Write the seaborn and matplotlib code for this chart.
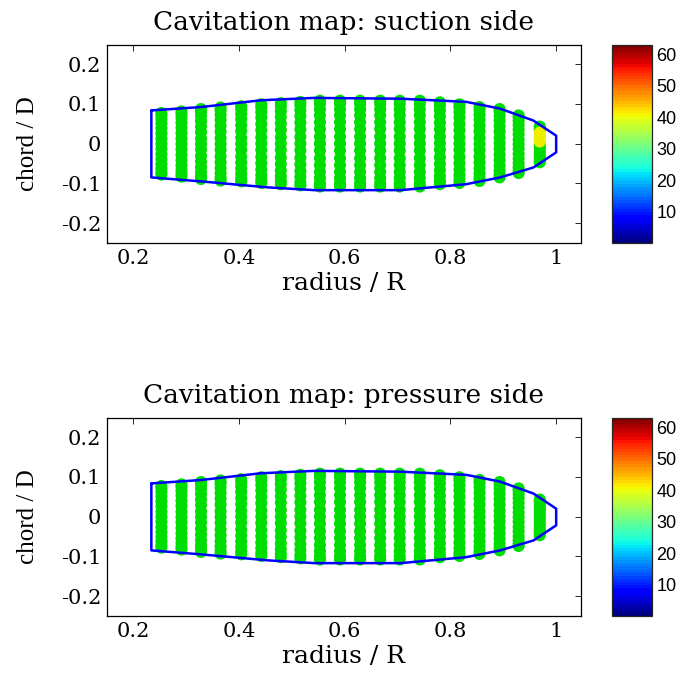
import matplotlib
matplotlib.use("Agg")

import matplotlib.pyplot as plt
import pandas as pd
import seaborn as sns
from matplotlib.cm import ScalarMappable
from matplotlib.colors import Normalize

# blade section radii (panel columns) and chordwise extent of the panel centres
RADII = [0.253, 0.291, 0.328, 0.365, 0.404, 0.442, 0.479, 0.516, 0.553, 0.591,
         0.629, 0.667, 0.704, 0.742, 0.780, 0.817, 0.855, 0.893, 0.929, 0.969]
COL_TOP = [0.077, 0.081, 0.087, 0.091, 0.094, 0.099, 0.102, 0.105, 0.108, 0.108,
           0.108, 0.108, 0.108, 0.108, 0.104, 0.099, 0.092, 0.087, 0.071, 0.043]
COL_BOTTOM = [-0.078, -0.083, -0.089, -0.093, -0.095, -0.099, -0.102, -0.105, -0.108, -0.108,
              -0.108, -0.108, -0.108, -0.108, -0.102, -0.099, -0.094, -0.085, -0.074, -0.047]
CHORD_FRAC = [0.0, 0.04, 0.10, 0.17, 0.25, 0.33, 0.42, 0.50, 0.58, 0.67, 0.75, 0.83, 0.90, 0.96, 1.0]

# cavitation state of the tip column, leading edge first
SUCTION_TIP_STATE = ["wet", "wet", "wet", "cav", "cav", "cav", "cav", "wet",
                     "wet", "wet", "wet", "wet", "wet", "wet", "wet"]
PRESSURE_TIP_STATE = ["wet"] * 15

# blade outline
OUTLINE_X = [0.234, 0.328, 0.441, 0.542, 0.706, 0.830, 0.894, 0.957, 1.000,
             1.000, 0.957, 0.894, 0.830, 0.706, 0.542, 0.454, 0.328, 0.234, 0.234]
OUTLINE_Y = [0.0835, 0.092, 0.109, 0.115, 0.113, 0.105, 0.088, 0.058, 0.020,
             -0.022, -0.060, -0.085, -0.102, -0.117, -0.117, -0.110, -0.095, -0.085, 0.0835]

X_TICKS = [0.2, 0.4, 0.6, 0.8, 1.0]
X_LABELS = ["0.2", "0.4", "0.6", "0.8", "1"]
Y_TICKS = [-0.2, -0.1, 0.0, 0.1, 0.2]
Y_LABELS = ["-0.2", "-0.1", "0", "0.1", "0.2"]
CB_TICKS = [10, 20, 30, 40, 50, 60]

PALETTE = {"wet": "#00dd00", "cav": "#eeee00"}


def panel_points(tip_state):
    rows = []
    last = len(RADII) - 1
    for i, r in enumerate(RADII):
        for j, f in enumerate(CHORD_FRAC):
            state = tip_state[j] if i == last else "wet"
            y = COL_TOP[i] + f * (COL_BOTTOM[i] - COL_TOP[i])
            rows.append({"radius": r, "chord": y, "state": state})
    df = pd.DataFrame(rows)
    # cavitating panels drawn last so they sit on top
    return pd.concat([df[df["state"] == "wet"], df[df["state"] == "cav"]])


def draw_panel(ax, cax, title, tip_state):
    df = panel_points(tip_state)
    sns.scatterplot(data=df, x="radius", y="chord", hue="state", palette=PALETTE,
                    s=75, linewidth=0, legend=False, ax=ax, zorder=2)
    outline = pd.DataFrame({"x": OUTLINE_X, "y": OUTLINE_Y})
    sns.lineplot(data=outline, x="x", y="y", sort=False, estimator=None,
                 color="#0000ff", linewidth=1.8, ax=ax, zorder=3)

    ax.set_xlim(0.15, 1.047)
    ax.set_ylim(-0.25, 0.248)
    ax.set_xticks(X_TICKS)
    ax.set_xticklabels(X_LABELS)
    ax.set_yticks(Y_TICKS)
    ax.set_yticklabels(Y_LABELS)
    ax.tick_params(direction="in", length=4, width=0.6, labelsize=15,
                   top=True, right=True, pad=4)
    for sp in ax.spines.values():
        sp.set_linewidth(0.9)
        sp.set_color("black")
    ax.set_xlabel("radius / R", fontsize=18, labelpad=3)
    ax.set_ylabel("chord / D", fontsize=18, labelpad=16,
                  family=["Liberation Serif", "DejaVu Serif"])
    ax.set_title(title, fontsize=19, pad=11)

    sm = ScalarMappable(norm=Normalize(0, 63), cmap=plt.get_cmap("jet", 64))
    cb = fig.colorbar(sm, cax=cax, ticks=CB_TICKS)
    cb.outline.set_linewidth(0.9)
    cax.tick_params(direction="in", length=3, width=0.6, left=True, right=True,
                    labelsize=13, pad=3)
    for lab in cax.get_yticklabels():
        lab.set_family(["Liberation Sans", "DejaVu Sans"])


sns.set_style("white")
plt.rcParams["font.family"] = ["DejaVu Serif"]
for key in ["text.color", "axes.labelcolor", "xtick.color", "ytick.color"]:
    plt.rcParams[key] = "black"

fig = plt.figure(figsize=(6.91, 6.73), dpi=100)
ax_top = fig.add_axes([0.1548, 0.6389, 0.686, 0.2942])
cax_top = fig.add_axes([0.8857, 0.6389, 0.0579, 0.2942])
ax_bot = fig.add_axes([0.1548, 0.0847, 0.686, 0.2942])
cax_bot = fig.add_axes([0.8857, 0.0847, 0.0579, 0.2942])

draw_panel(ax_top, cax_top, "Cavitation map: suction side", SUCTION_TIP_STATE)
draw_panel(ax_bot, cax_bot, "Cavitation map: pressure side", PRESSURE_TIP_STATE)

fig.savefig("out.png", dpi=100)
